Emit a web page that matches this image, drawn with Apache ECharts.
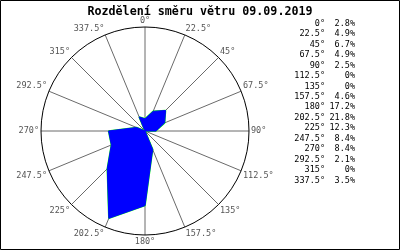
<!DOCTYPE html>
<html>
<head>
<meta charset="utf-8">
<script src="https://cdn.jsdelivr.net/npm/echarts@6/dist/echarts.min.js"></script>
<style>html,body{margin:0;padding:0;background:#fff}#c{width:400px;height:250px}</style>
</head>
<body>
<div id="c"></div>
<script>
var directions = [0, 22.5, 45, 67.5, 90, 112.5, 135, 157.5, 180, 202.5, 225, 247.5, 270, 292.5, 315, 337.5];
var percents = [2.8, 4.9, 6.7, 4.9, 2.5, 0, 0, 4.6, 17.2, 21.8, 12.3, 8.4, 8.4, 2.1, 0, 3.5];
var percentLabels = ['2.8%', '4.9%', '6.7%', '4.9%', '2.5%', '0%', '0%', '4.6%', '17.2%', '21.8%', '12.3%', '8.4%', '8.4%', '2.1%', '0%', '3.5%'];
var titleText = 'Rozdělení směru větru 09.09.2019';

var mono = 'DejaVu Sans Mono';
var pts = directions.map(function (d, i) { return [percents[i], d]; });
pts.push([percents[0], 360]);

var legendEls = [];
directions.forEach(function (d, i) {
  var y = 24 + i * 10.47;
  legendEls.push({ type: 'text', right: 75, top: y - 5, style: { text: d + '°', font: '8.5px "' + mono + '"', fill: '#000', textAlign: 'right' } });
  legendEls.push({ type: 'text', right: 45, top: y - 5, style: { text: percentLabels[i], font: '8.5px "' + mono + '"', fill: '#000', textAlign: 'right' } });
});
legendEls.push({ type: 'rect', shape: { x: 0.5, y: 0.5, width: 399, height: 249 }, style: { fill: 'none', stroke: '#000', lineWidth: 1 } });

var chart = echarts.init(document.getElementById('c'), null, { renderer: 'canvas' });
chart.setOption({
  animation: false,
  title: { text: titleText, left: 'center', top: 1, textStyle: { fontFamily: mono, fontSize: 11.7, fontWeight: 'bold', color: '#000' } },
  polar: { center: [145, 131], radius: 104 },
  angleAxis: {
    type: 'value', min: 0, max: 360, interval: 22.5, startAngle: 90, clockwise: true,
    axisLine: { lineStyle: { color: '#000', width: 1 } },
    axisTick: { show: false },
    axisLabel: { color: '#555', fontFamily: mono, fontSize: 8.5, margin: 2, formatter: function (v) { return v + '°'; } },
    splitLine: { show: true, lineStyle: { color: '#6a6a6a', width: 1 } }
  },
  radiusAxis: {
    type: 'value', min: 0, max: 24,
    axisLine: { show: false }, axisTick: { show: false }, axisLabel: { show: false }, splitLine: { show: false }
  },
  graphic: legendEls,
  series: [
    { type: 'line', coordinateSystem: 'polar', data: pts, symbol: 'none', z: 2, lineStyle: { color: '#00ff00', width: 1.6 } },
    { type: 'line', coordinateSystem: 'polar', data: pts, symbol: 'none', z: 3, lineStyle: { color: '#0000ff', width: 1 }, areaStyle: { color: '#0000ff', opacity: 1 } }
  ]
});
</script>
</body>
</html>
